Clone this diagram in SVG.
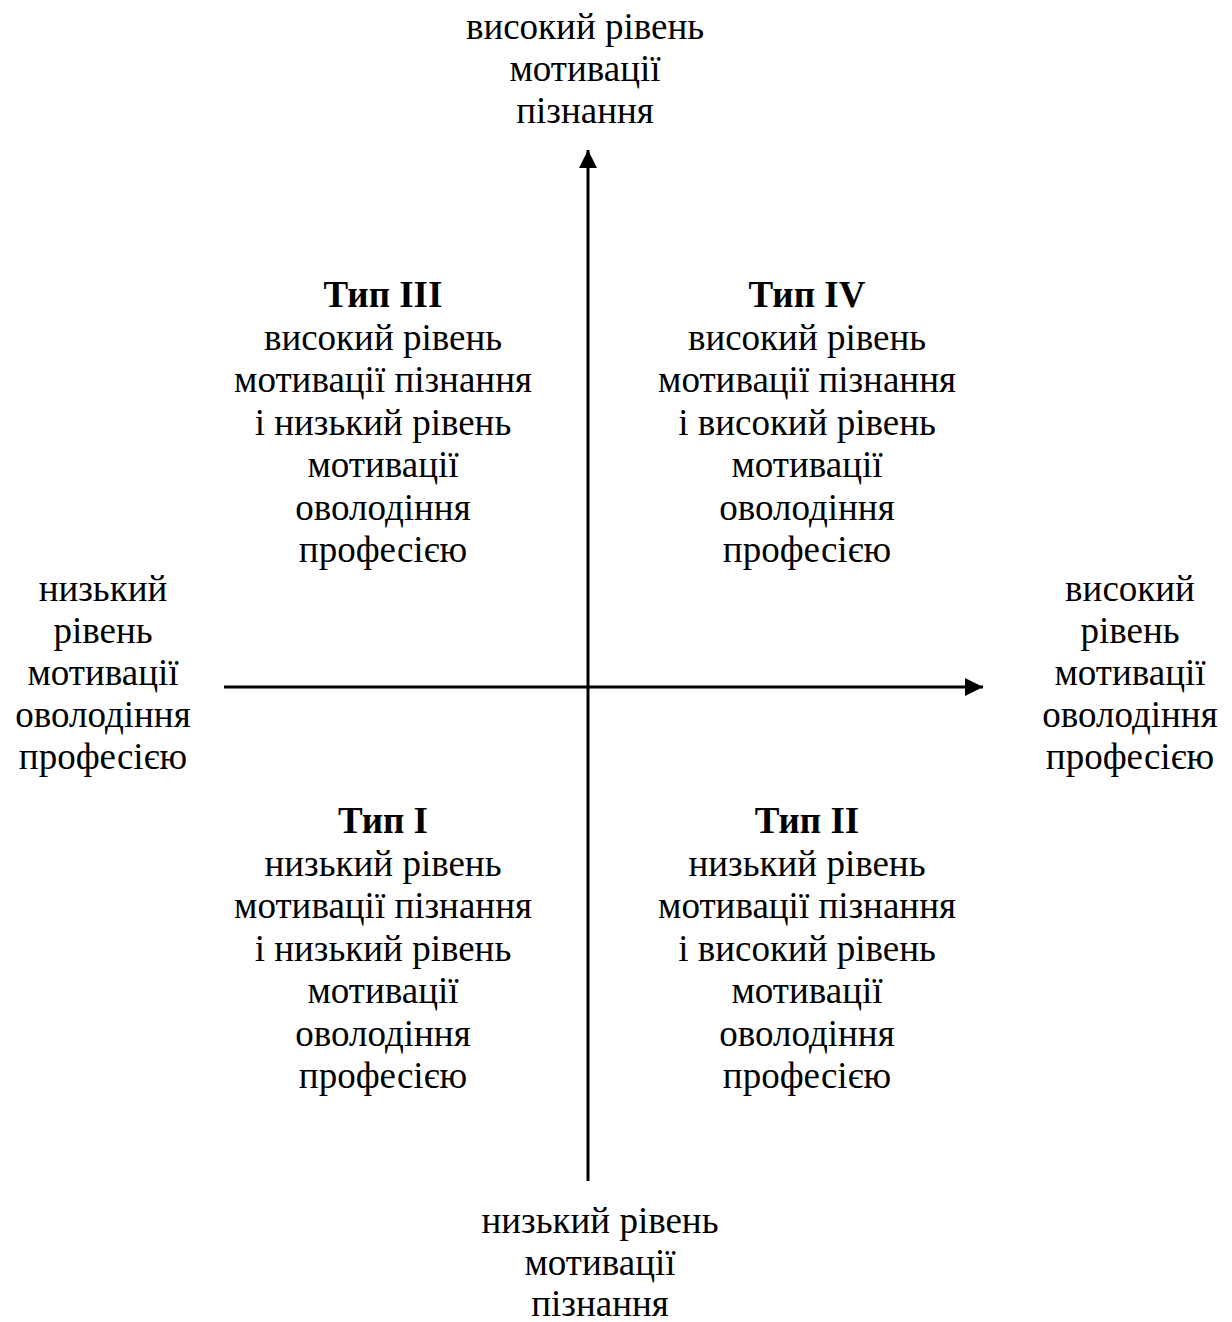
<svg xmlns="http://www.w3.org/2000/svg" width="1232" height="1322" viewBox="0 0 1232 1322">
<style>
text{font-family:"Liberation Serif","Times New Roman",serif;font-size:37px;fill:#000;text-anchor:middle}
.b{font-weight:bold}
.ax{stroke:#000;stroke-width:3;fill:none}
</style>
<defs>
<marker id="ah" viewBox="0 0 10 10" refX="10" refY="5" markerWidth="6" markerHeight="6" markerUnits="strokeWidth" orient="auto">
<path d="M0,0 L10,5 L0,10 Z" fill="#000"/>
</marker>
</defs>
<rect width="1232" height="1322" fill="#fff"/>
<g id="connectors">
<line class="ax" x1="588" y1="1181" x2="588" y2="150" marker-end="url(#ah)"/>
<line class="ax" x1="224" y1="687" x2="983" y2="687" marker-end="url(#ah)"/>
</g>
<g id="top-label"><text x="585" y="39">високий рівень</text><text x="585" y="81">мотивації</text><text x="585" y="123">пізнання</text></g>
<g id="bottom-label"><text x="600" y="1233">низький рівень</text><text x="600" y="1274.5">мотивації</text><text x="600" y="1316">пізнання</text></g>
<g id="left-label"><text x="103" y="601">низький</text><text x="103" y="643">рівень</text><text x="103" y="685">мотивації</text><text x="103" y="727">оволодіння</text><text x="103" y="769">професією</text></g>
<g id="right-label"><text x="1130" y="601">високий</text><text x="1130" y="643">рівень</text><text x="1130" y="685">мотивації</text><text x="1130" y="727">оволодіння</text><text x="1130" y="769">професією</text></g>
<g id="type3"><text class="b" x="383" y="307">Тип III</text><text x="383" y="349.5">високий рівень</text><text x="383" y="392">мотивації пізнання</text><text x="383" y="434.5">і низький рівень</text><text x="383" y="477">мотивації</text><text x="383" y="519.5">оволодіння</text><text x="383" y="562">професією</text></g>
<g id="type4"><text class="b" x="807" y="307">Тип IV</text><text x="807" y="349.5">високий рівень</text><text x="807" y="392">мотивації пізнання</text><text x="807" y="434.5">і високий рівень</text><text x="807" y="477">мотивації</text><text x="807" y="519.5">оволодіння</text><text x="807" y="562">професією</text></g>
<g id="type1"><text class="b" x="383" y="833">Тип I</text><text x="383" y="875.5">низький рівень</text><text x="383" y="918">мотивації пізнання</text><text x="383" y="960.5">і низький рівень</text><text x="383" y="1003">мотивації</text><text x="383" y="1045.5">оволодіння</text><text x="383" y="1088">професією</text></g>
<g id="type2"><text class="b" x="807" y="833">Тип II</text><text x="807" y="875.5">низький рівень</text><text x="807" y="918">мотивації пізнання</text><text x="807" y="960.5">і високий рівень</text><text x="807" y="1003">мотивації</text><text x="807" y="1045.5">оволодіння</text><text x="807" y="1088">професією</text></g>
</svg>
